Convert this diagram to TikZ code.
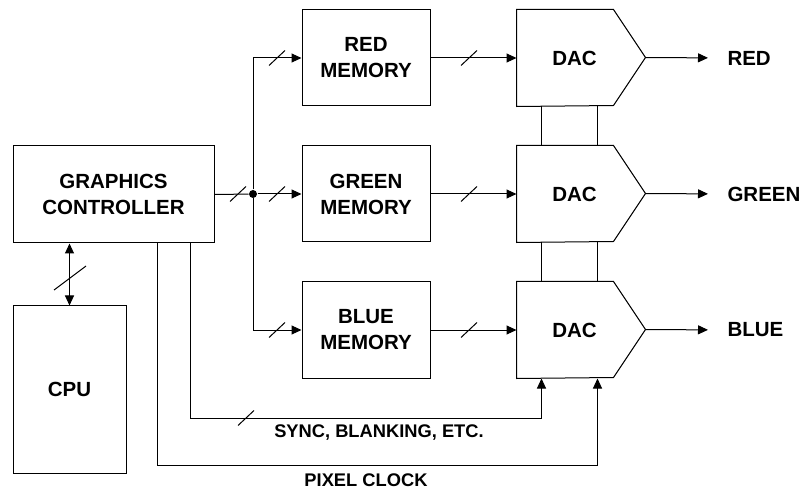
\documentclass[tikz,border=0pt]{standalone}
\usepackage{fontspec}
\setmainfont{Liberation Sans}
\usetikzlibrary{arrows.meta, positioning}

\begin{document}
\begin{tikzpicture}[x=1pt, y=-1pt, line width=1pt,
    font=\fontsize{20.5}{26}\selectfont\bfseries,
    box/.style={draw, align=center, inner sep=0pt},
    mem/.style={box, minimum width=128pt, minimum height=96pt},
    dac/.style={minimum width=115pt, minimum height=96pt, inner sep=0pt},
    dot/.style={circle, fill, inner sep=0pt, minimum size=8pt},
    arr/.style={-{Triangle[length=10pt, width=9pt]}},
    outlbl/.style={anchor=west, inner sep=0pt},
    sublbl/.style={inner sep=0pt, font=\fontsize{18.3}{22}\selectfont\bfseries}]
  \useasboundingbox (0,0) rectangle (801,489);

  \node[box, minimum width=201pt, minimum height=97pt] (ctrl) at (113.5,194.5) {GRAPHICS\\CONTROLLER};
  \node[box, minimum width=113pt, minimum height=167pt] (cpu) at (69.5,389.5) {CPU};
  \node[dot] (jn) at (253,194) {};

  % one channel per colour
  \foreach \n/\y/\lbl in {red/58/RED, green/194/GREEN, blue/330/BLUE} {
    \node[mem] (mem\n) at (366,\y) {\lbl\\MEMORY};
    \node[dac] (dac\n) at (574.5,\y) {DAC};
    \draw (dac\n.north west) -- ++(97,0) -- ++(32,48) coordinate (tip\n)
      -- ++(-32,48) -- (dac\n.south west) -- cycle;
    \node[outlbl] (out\n) at (727,\y) {\lbl};
    \draw[arr] (mem\n.east) -- (dac\n.west);
    \draw[arr, shorten >=19pt] (tip\n) -- (out\n.west);
  }

  % bus from the controller
  \draw (ctrl.east) -- (jn);
  \draw[arr] (jn) -- (memgreen.west);
  \draw[arr] (jn) |- (memred.west);
  \draw[arr] (jn) |- (memblue.west);

  % links between the DACs
  \foreach \a/\b in {red/green, green/blue} {
    \draw ([xshift=25pt]dac\a.south west) -- ([xshift=25pt]dac\b.north west);
    \draw ([xshift=81pt]dac\a.south west) -- ([xshift=81pt]dac\b.north west);
  }

  % CPU bus
  \draw[{Triangle[length=10pt, width=9pt]}-{Triangle[length=10pt, width=9pt]}]
    (cpu.north) -- (cpu.north |- ctrl.south);

  % control lines
  \coordinate (sy) at (190,418);
  \coordinate (pc) at (157,465);
  \draw[arr] (sy |- ctrl.south) -- (sy) -| ([xshift=25pt]dacblue.south west);
  \draw[arr] (pc |- ctrl.south) -- (pc) -| ([xshift=81pt]dacblue.south west);
  \node[sublbl] (sync) at (379,433) {SYNC, BLANKING, ETC.};
  \node[sublbl] (pclk) at (366,480) {PIXEL CLOCK};

  % bus width marks
  \foreach \x/\y in {238/194, 277/194, 277/58, 277/330, 469/58, 469/194, 469/330, 246/418}
    \draw (\x,\y) ++(-8,7.5) -- ++(16,-15);
  \draw (70,278) ++(-16,12) -- ++(32,-24);
\end{tikzpicture}
\end{document}
